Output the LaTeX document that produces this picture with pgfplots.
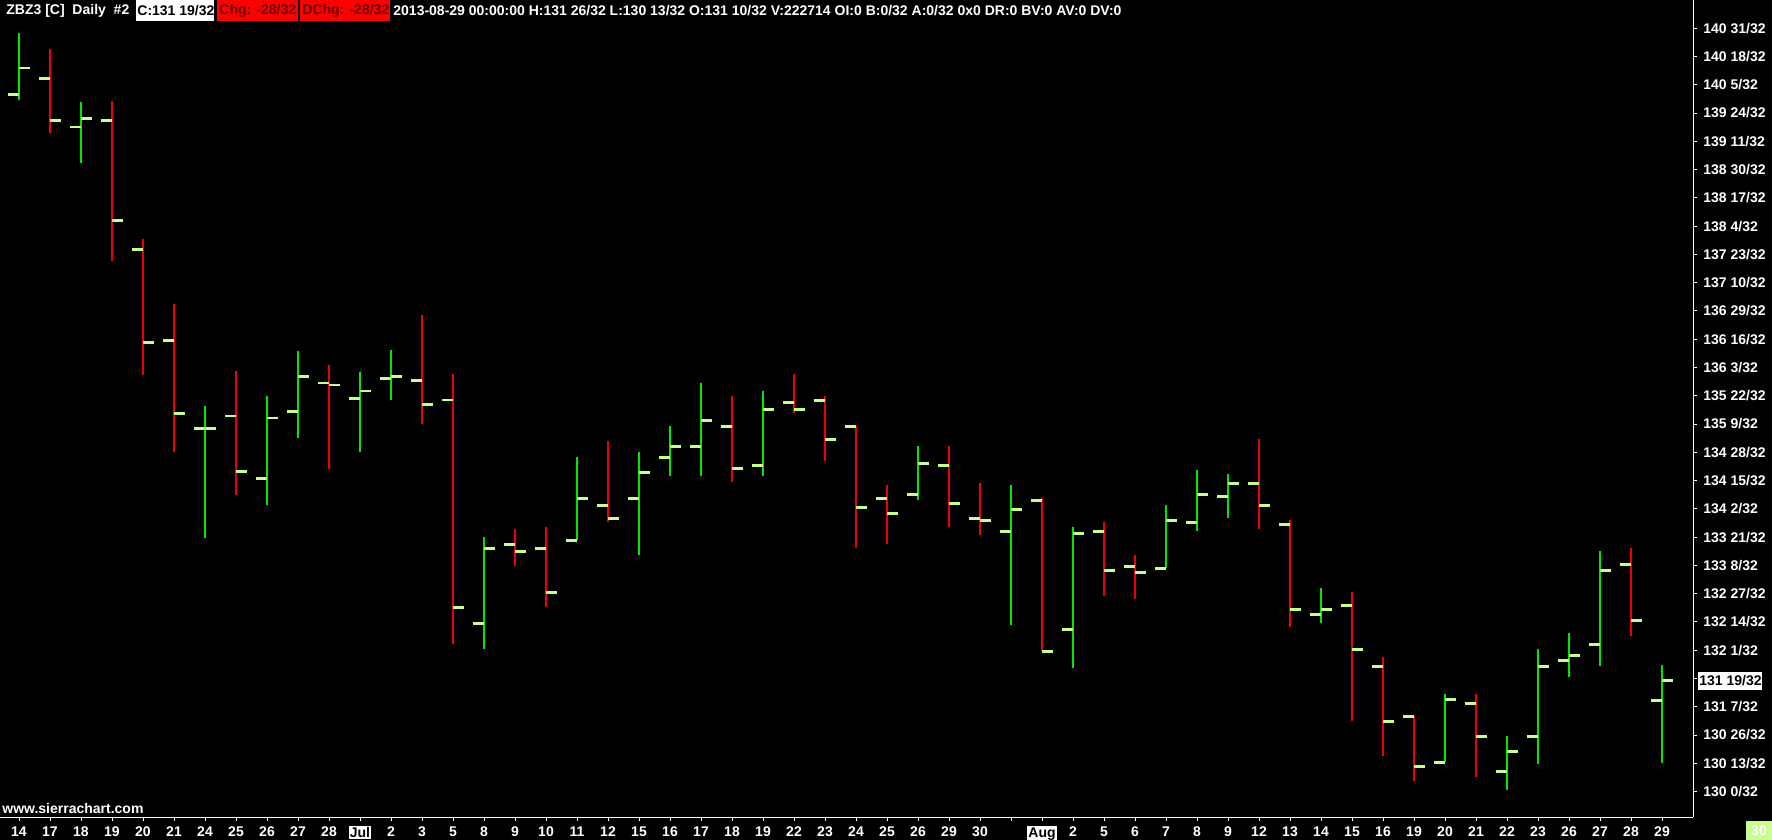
\documentclass[border=0pt]{standalone}
\usepackage{fontspec}
\setmainfont{Liberation Sans}
\usepackage{pgfplots}
\pgfplotsset{compat=1.18}
\usepackage{pgfplotstable}
\definecolor{upc}{RGB}{0,230,0}
\definecolor{dnc}{RGB}{240,0,0}
\definecolor{tk}{RGB}{200,255,140}
\definecolor{hred}{RGB}{255,0,0}
\newcommand{\lbl}{\fontsize{7pt}{8pt}\selectfont\bfseries}

% i = trading day index, O H L C in points
\pgfplotstableread{
i O H L C
0 140.019 140.895 139.933 140.397
2 139.549 139.904 139.036 139.668
6 135.220 135.545 133.648 135.220
8 134.496 135.688 134.118 135.368
9 135.464 136.335 135.085 135.961
11 135.651 136.029 134.884 135.756
12 135.938 136.345 135.631 135.967
15 132.418 133.658 132.053 133.496
18 133.611 134.807 133.611 134.214
20 134.214 134.879 133.404 134.588
21 134.803 135.253 134.539 134.961
22 134.961 135.871 134.539 135.335
24 134.688 135.756 134.539 135.493
29 134.272 134.966 134.194 134.717
32 133.740 134.405 132.398 134.056
34 132.332 133.802 131.780 133.711
37 133.208 134.118 133.208 133.898
38 133.869 134.621 133.749 134.272
39 134.243 134.563 133.935 134.430
42 132.547 132.925 132.427 132.619
46 130.421 131.402 130.421 131.326
48 130.292 130.799 130.023 130.579
49 130.795 132.049 130.401 131.800
50 131.886 132.279 131.651 131.958
51 132.116 133.457 131.809 133.180
53 131.3125 131.8125 130.40625 131.59375
}\up

\pgfplotstableread{
i O H L C
1 140.249 140.665 139.463 139.645
3 139.645 139.927 137.628 138.208
4 137.792 137.944 135.990 136.450
5 136.478 137.006 134.884 135.435
7 135.397 136.039 134.261 134.602
10 135.871 136.129 134.631 135.842
13 135.909 136.848 135.286 135.565
14 135.626 136.000 132.125 132.648
16 133.553 133.773 133.246 133.453
17 133.496 133.802 132.657 132.864
19 134.114 135.037 133.878 133.927
23 135.249 135.684 134.444 134.645
25 135.593 136.000 135.444 135.493
26 135.622 135.684 134.754 135.062
27 135.249 135.249 133.504 134.085
28 134.214 134.405 133.557 133.999
30 134.688 134.966 133.806 134.142
31 133.927 134.434 133.691 133.898
33 134.185 134.214 132.016 132.016
35 133.740 133.874 132.815 133.180
36 133.237 133.399 132.767 133.151
40 134.430 135.066 133.777 134.114
41 133.841 133.902 132.369 132.619
43 132.677 132.868 131.019 132.045
44 131.800 131.934 130.516 131.010
45 131.082 131.082 130.152 130.364
47 131.269 131.402 130.214 130.795
52 133.266 133.500 132.240 132.461
}\dn

\begin{document}
\begin{tikzpicture}
\fill[black] (0pt,0pt) rectangle (886pt,-420pt);
\useasboundingbox (0pt,0pt) rectangle (886pt,-420pt);
\begin{axis}[
  at={(0pt,0pt)}, anchor=north west,
  scale only axis, width=846.5pt, height=408.5pt,
  xmin=-0.6129, xmax=54.0, ymin=129.635, ymax=141.374,
  axis x line*=bottom, axis y line*=right,
  axis line style={white, line width=0.5pt, -},
  tick align=outside, major tick length=2pt,
  tick style={white, line width=0.5pt},
  /pgf/number format/assume math mode=true,
  every tick label/.append style={font=\lbl, text=white},
  yticklabel style={anchor=west, inner sep=0pt, xshift=3pt},
  xticklabel style={anchor=north, inner sep=0pt, yshift=-2.5pt},
  ytick={130,130.40625,130.8125,131.21875,131.625,132.03125,132.4375,132.84375,133.25,133.65625,134.0625,134.46875,134.875,135.28125,135.6875,136.09375,136.5,136.90625,137.3125,137.71875,138.125,138.53125,138.9375,139.34375,139.75,140.15625,140.5625,140.96875},
  yticklabels={130 0/32,130 13/32,130 26/32,131 7/32,{},132 1/32,132 14/32,132 27/32,133 8/32,133 21/32,134 2/32,134 15/32,134 28/32,135 9/32,135 22/32,136 3/32,136 16/32,136 29/32,137 10/32,137 23/32,138 4/32,138 17/32,138 30/32,139 11/32,139 24/32,140 5/32,140 18/32,140 31/32},
  xtick={0,...,53},
  xticklabels={14,17,18,19,20,21,24,25,26,27,28,{\setlength\fboxsep{0.5pt}\colorbox{white}{\textcolor{black}{Jul}}},2,3,5,8,9,10,11,12,15,16,17,18,19,22,23,24,25,26,29,30,{},{\setlength\fboxsep{0.5pt}\colorbox{white}{\textcolor{black}{Aug}}},2,5,6,7,8,9,12,13,14,15,16,19,20,21,22,23,26,27,28,29},
]
% high-low lines
\addplot[forget plot, draw=none, error bars/.cd, y dir=plus, y explicit, error mark=none,
  error bar style={draw=upc, line width=0.6pt}]
  table[x=i, y=L, y error plus expr={\thisrow{H}-\thisrow{L}}] {\up};
\addplot[forget plot, draw=none, error bars/.cd, y dir=plus, y explicit, error mark=none,
  error bar style={draw=dnc, line width=0.6pt}]
  table[x=i, y=L, y error plus expr={\thisrow{H}-\thisrow{L}}] {\dn};
% open ticks (left)
\addplot[forget plot, draw=none, error bars/.cd, x dir=minus, x fixed=0.365, error mark=none,
  error bar style={draw=tk, line width=1.4pt}]
  table[x=i, y=O] {\up};
\addplot[forget plot, draw=none, error bars/.cd, x dir=minus, x fixed=0.365, error mark=none,
  error bar style={draw=tk, line width=1.4pt}]
  table[x=i, y=O] {\dn};
% close ticks (right)
\addplot[forget plot, draw=none, error bars/.cd, x dir=plus, x fixed=0.365, error mark=none,
  error bar style={draw=tk, line width=1.4pt}]
  table[x=i, y=C] {\up};
\addplot[forget plot, draw=none, error bars/.cd, x dir=plus, x fixed=0.365, error mark=none,
  error bar style={draw=tk, line width=1.4pt}]
  table[x=i, y=C] {\dn};
\end{axis}
\begin{scope}[x=0.5pt, y=-0.5pt, every node/.style={font=\lbl, inner sep=0pt}]
  % header
  \node[anchor=west, text=white] at (6,10.5) {ZBZ3 [C]\ \ Daily\ \ \#2};
  \fill[white] (136,0) rectangle (214,21);
  \node[anchor=west, text=black] at (137,10.5) {C:131 19/32};
  \fill[hred] (217,0) rectangle (298,21);
  \node[anchor=west, text=black!60!hred] at (219,10.5) {Chg: -28/32};
  \fill[hred] (300,0) rectangle (390,21);
  \node[anchor=west, text=black!60!hred] at (302,10.5) {DChg: -28/32};
  \node[anchor=west, text=white] at (393,10.5) {2013-08-29 00:00:00 H:131 26/32 L:130 13/32 O:131 10/32 V:222714 OI:0 B:0/32 A:0/32 0x0 DR:0 BV:0 AV:0 DV:0};
  % watermark
  \node[anchor=west, text=white] at (2,808) {www.sierrachart.com};
  % current price marker
  \fill[white] (1698,672) rectangle (1762,689.5);
  \node[anchor=west, text=black] at (1699,680.7) {131 19/32};
  % time marker
  \fill[tk] (1746,821) rectangle (1772,840);
  \node[text=white] at (1759,830.5) {30};
\end{scope}
\end{tikzpicture}
\end{document}
